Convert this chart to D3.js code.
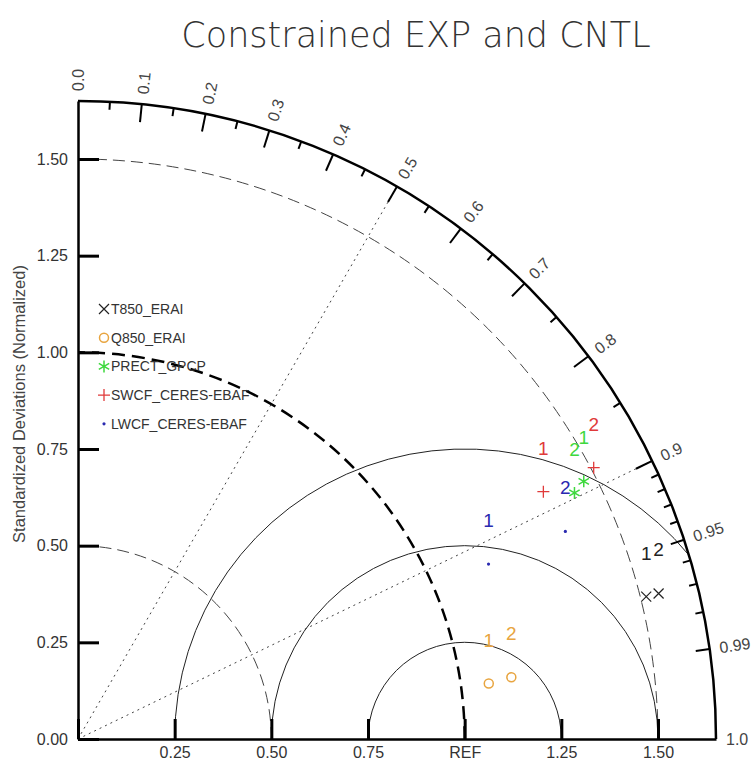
<!DOCTYPE html>
<meta charset="utf-8">
<script src="https://d3js.org/d3.v7.min.js"></script>
<style>
  body { margin: 0; background: #fff; }
  text { font-family: "Liberation Sans", Arial, sans-serif; fill: #333; }
</style>
<div id="my_dataviz"></div>
<script>
// data: normalized std dev ratio and pattern correlation, per variable, per case
var variables = ["T850_ERAI", "Q850_ERAI", "PRECT_GPCP", "SWCF_CERES-EBAF", "LWCF_CERES-EBAF"];
var colors    = ["#222222", "#e8a540", "#3ed83e", "#e03a3a", "#2a2ab0"];
var markers   = ["x", "circle", "star", "plus", "dot"];
var caseNames = ["1", "2"];
var case1Ratio = [1.515, 1.072, 1.468, 1.363, 1.154];
var case1Cor   = [0.970, 0.991, 0.891, 0.883, 0.920];
var case2Ratio = [1.548, 1.132, 1.433, 1.507, 1.370];
var case2Cor   = [0.970, 0.990, 0.896, 0.885, 0.920];

var stdTicks = [0, 0.25, 0.5, 0.75, 1.0, 1.25, 1.5];
var corMajor = [0.0, 0.1, 0.2, 0.3, 0.4, 0.5, 0.6, 0.7, 0.8, 0.9, 0.95, 0.99, 1.0];
var corMinor = [0.05, 0.15, 0.25, 0.35, 0.45, 0.55, 0.65, 0.75, 0.85, 0.91, 0.92, 0.93, 0.94, 0.96, 0.97, 0.98];
var corLines = [0.5, 0.9];
var stdArcs  = [0.5, 1.0, 1.5];
var rmsArcs  = [0.25, 0.5, 0.75];
var maxStd = 1.65;

var width = 753, height = 764;
var ox = 78, oy = 739;

var svg = d3.select("#my_dataviz")
  .append("svg")
    .attr("width", width)
    .attr("height", height);

var r = d3.scaleLinear().domain([0, maxStd]).range([0, 638]);
var R = r(maxStd);

function pt(s, c) {
  var a = Math.acos(c);
  return [ox + r(s) * Math.cos(a), oy - r(s) * Math.sin(a)];
}

// title
svg.append("text")
  .attr("x", 416).attr("y", 47)
  .attr("text-anchor", "middle")
  .style("font-family", "DejaVu Sans, sans-serif")
  .style("font-weight", 200)
  .style("font-size", "35px")
  .text("Constrained EXP and CNTL");

// std dev arcs (dashed)
stdArcs.forEach(function (s) {
  var p = d3.path();
  p.arc(ox, oy, r(s), 0, -Math.PI / 2, true);
  svg.append("path").attr("d", p.toString())
    .attr("fill", "none")
    .attr("stroke", s == 1 ? "#000" : "#444")
    .attr("stroke-width", s == 1 ? 2.5 : 1)
    .attr("stroke-dasharray", s == 1 ? "13,7" : "12,6");
});

// rms circles around REF
var cx = ox + r(1);
rmsArcs.forEach(function (d) {
  var end = 0;
  if (1 + d > maxStd) {
    var xi = (maxStd * maxStd - d * d + 1) / 2;
    var yi = Math.sqrt(maxStd * maxStd - xi * xi);
    end = -Math.atan2(yi, xi - 1);
  }
  var p = d3.path();
  p.arc(cx, oy, r(d), -Math.PI, end, false);
  svg.append("path").attr("d", p.toString())
    .attr("fill", "none").attr("stroke", "#222").attr("stroke-width", 1);
});

// correlation radial lines (dotted)
corLines.forEach(function (c) {
  var e = pt(maxStd, c);
  svg.append("line")
    .attr("x1", ox).attr("y1", oy).attr("x2", e[0]).attr("y2", e[1])
    .attr("stroke", "#444").attr("stroke-width", 1)
    .attr("stroke-dasharray", "2,4");
});

// std dev axes
var yScale = d3.scaleLinear().domain([0, maxStd]).range([oy, oy - R]);
var xScale = d3.scaleLinear().domain([0, maxStd]).range([ox, ox + R]);

var yAxis = svg.append("g")
  .attr("transform", "translate(" + ox + ",0)")
  .call(d3.axisLeft(yScale).tickValues(stdTicks).tickSize(-21).tickSizeOuter(0)
    .tickPadding(10).tickFormat(d3.format(".2f")));
var xAxis = svg.append("g")
  .attr("transform", "translate(0," + oy + ")")
  .call(d3.axisBottom(xScale).tickValues(stdTicks).tickSize(-20).tickSizeOuter(0)
    .tickPadding(8).tickFormat(function (d) { return d == 0 ? "" : d == 1 ? "REF" : d3.format(".2f")(d); }));

[yAxis, xAxis].forEach(function (g) {
  g.select(".domain").attr("stroke", "#000").attr("stroke-width", 2.5);
  g.selectAll(".tick line").attr("stroke", "#000").attr("stroke-width", 3);
  g.selectAll(".tick text").style("font-size", "16px")
    .style("font-family", "Liberation Sans, Arial, sans-serif").attr("fill", "#333");
});

// outer correlation arc
var outer = d3.path();
outer.arc(ox, oy, R, 0, -Math.PI / 2, true);
svg.append("path").attr("d", outer.toString())
  .attr("fill", "none").attr("stroke", "#000").attr("stroke-width", 2.5);

// correlation ticks
function corTick(c, len) {
  var a = pt(maxStd, c), b = pt(maxStd - r.invert(len), c);
  svg.append("line")
    .attr("x1", a[0]).attr("y1", a[1]).attr("x2", b[0]).attr("y2", b[1])
    .attr("stroke", "#000").attr("stroke-width", 2);
}
corMinor.forEach(function (c) { corTick(c, 8); });
corMajor.forEach(function (c) {
  if (c > 0 && c < 1) corTick(c, (c == 0.95 || c == 0.99) ? 14 : 18);
  var p = pt(maxStd + r.invert(10), c);
  var ang = -Math.acos(c) * 180 / Math.PI;
  svg.append("text")
    .attr("transform", "translate(" + p[0] + "," + p[1] + ") rotate(" + ang + ")")
    .attr("dy", "0.35em")
    .style("font-size", "16px")
    .style("fill", "#444")
    .text(c == 0 ? "0.0" : c == 1 ? "1.0" : String(c));
});

// y axis title
svg.append("text")
  .attr("transform", "translate(19,404) rotate(-90)")
  .attr("text-anchor", "middle")
  .attr("dy", "0.35em")
  .style("font-size", "16.5px")
  .style("fill", "#444")
  .text("Standardized Deviations (Normalized)");

// marker drawing
function drawMarker(g, type, x, y, color) {
  if (type == "x") {
    g.append("path").attr("d", "M" + (x - 5) + "," + (y - 5) + "L" + (x + 5) + "," + (y + 5) +
        "M" + (x - 5) + "," + (y + 5) + "L" + (x + 5) + "," + (y - 5))
      .attr("stroke", color).attr("stroke-width", 1.2);
  } else if (type == "circle") {
    g.append("circle").attr("cx", x).attr("cy", y).attr("r", 4.5)
      .attr("fill", "none").attr("stroke", color).attr("stroke-width", 1.5);
  } else if (type == "star") {
    var s = "";
    [90, 30, -30].forEach(function (deg) {
      var a = deg * Math.PI / 180, dx = 6 * Math.cos(a), dy = 6 * Math.sin(a);
      s += "M" + (x - dx) + "," + (y - dy) + "L" + (x + dx) + "," + (y + dy);
    });
    g.append("path").attr("d", s).attr("stroke", color).attr("stroke-width", 1.5);
  } else if (type == "plus") {
    g.append("path").attr("d", "M" + (x - 6) + "," + y + "L" + (x + 6) + "," + y +
        "M" + x + "," + (y - 6) + "L" + x + "," + (y + 6))
      .attr("stroke", color).attr("stroke-width", 1.3);
  } else {
    g.append("circle").attr("cx", x).attr("cy", y).attr("r", 1.6).attr("fill", color);
  }
}

// data points with case numbers
var pts = svg.append("g");
[[case1Ratio, case1Cor], [case2Ratio, case2Cor]].forEach(function (cs, k) {
  variables.forEach(function (v, i) {
    var p = pt(cs[0][i], cs[1][i]);
    drawMarker(pts, markers[i], p[0], p[1], colors[i]);
    pts.append("text")
      .attr("x", p[0]).attr("y", p[1] - 37)
      .attr("text-anchor", "middle")
      .style("font-size", "19px")
      .style("fill", colors[i])
      .text(caseNames[k]);
  });
});

// legend
var leg = svg.append("g");
variables.forEach(function (v, i) {
  var y = 309 + i * 28.7;
  drawMarker(leg, markers[i], 104, y, colors[i]);
  leg.append("text")
    .attr("x", 111).attr("y", y).attr("dy", "0.35em")
    .style("font-size", "14px")
    .text(v);
});
</script>
